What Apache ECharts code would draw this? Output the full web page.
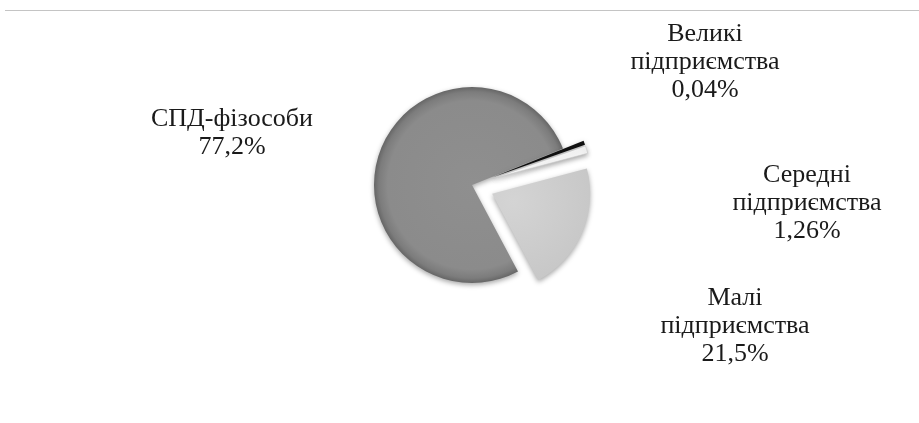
<!DOCTYPE html>
<html>
<head>
<meta charset="utf-8">
<script src="https://cdn.jsdelivr.net/npm/echarts@6/dist/echarts.min.js"></script>
<style>html,body{margin:0;padding:0;background:#fff}#c{width:919px;height:423px}</style>
</head>
<body>
<div id="c"></div>
<script>
const categories = ['СПД-фізособи', 'Великі\nпідприємства', 'Середні\nпідприємства', 'Малі\nпідприємства'];
const values = [77.2, 0.04, 1.26, 21.5];
const valueLabels = ['77,2%', '0,04%', '1,26%', '21,5%'];
const exploded = [false, true, true, true];

const labelPos = [[232, 133], [705, 62], [807, 203], [735, 326]];
const fills = [
  {type:'radial', x:472, y:185, r:98, global:true, colorStops:[{offset:0,color:'#8f8f8f'},{offset:0.86,color:'#8b8b8b'},{offset:0.95,color:'#7c7c7c'},{offset:1,color:'#666666'}]},
  '#111111',
  {type:'radial', x:493, y:179, r:98, global:true, colorStops:[{offset:0,color:'#ffffff'},{offset:0.9,color:'#f6f6f6'},{offset:1,color:'#b8b8b8'}]},
  {type:'radial', x:493, y:193, r:98, global:true, colorStops:[{offset:0,color:'#d4d4d4'},{offset:0.85,color:'#c7c7c7'},{offset:0.95,color:'#b2b2b2'},{offset:1,color:'#8e8e8e'}]}
];

const pieBase = {
  type: 'pie',
  center: [472, 185],
  radius: [0, 98],
  startAngle: 298,
  clockwise: true,
  minAngle: 2.4,
  animation: false,
  emphasis: {disabled: true}
};

const chart = echarts.init(document.getElementById('c'));
chart.setOption({
  animation: false,
  backgroundColor: '#fff',
  graphic: [{type:'line', shape:{x1:5, y1:10.5, x2:919, y2:10.5}, style:{stroke:'#c4c4c4', lineWidth:1}}],
  series: [
    Object.assign({}, pieBase, {
      selectedMode: 'multiple',
      selectedOffset: 22,
      label: {show: false},
      labelLine: {show: false},
      itemStyle: {shadowBlur: 5, shadowColor: 'rgba(0,0,0,0.35)', shadowOffsetY: 2},
      data: categories.map((c, i) => ({
        name: c, value: values[i], selected: exploded[i],
        itemStyle: {color: fills[i], borderColor: i === 2 ? '#c8c8c8' : 'rgba(0,0,0,0)', borderWidth: i === 2 ? 0.6 : 0}
      }))
    }),
    Object.assign({}, pieBase, {
      silent: true,
      z: 5,
      avoidLabelOverlap: false,
      itemStyle: {color: 'rgba(0,0,0,0)'},
      label: {
        show: true,
        position: 'outside',
        fontFamily: 'Liberation Serif',
        fontSize: 26,
        lineHeight: 28,
        color: '#1a1a1a',
        align: 'center',
        formatter: p => p.name + '\n' + valueLabels[p.dataIndex]
      },
      labelLine: {show: false},
      labelLayout: p => ({x: labelPos[p.dataIndex][0], y: labelPos[p.dataIndex][1], align: 'center', verticalAlign: 'middle'}),
      data: categories.map((c, i) => ({name: c, value: values[i]}))
    })
  ]
});
</script>
</body>
</html>
